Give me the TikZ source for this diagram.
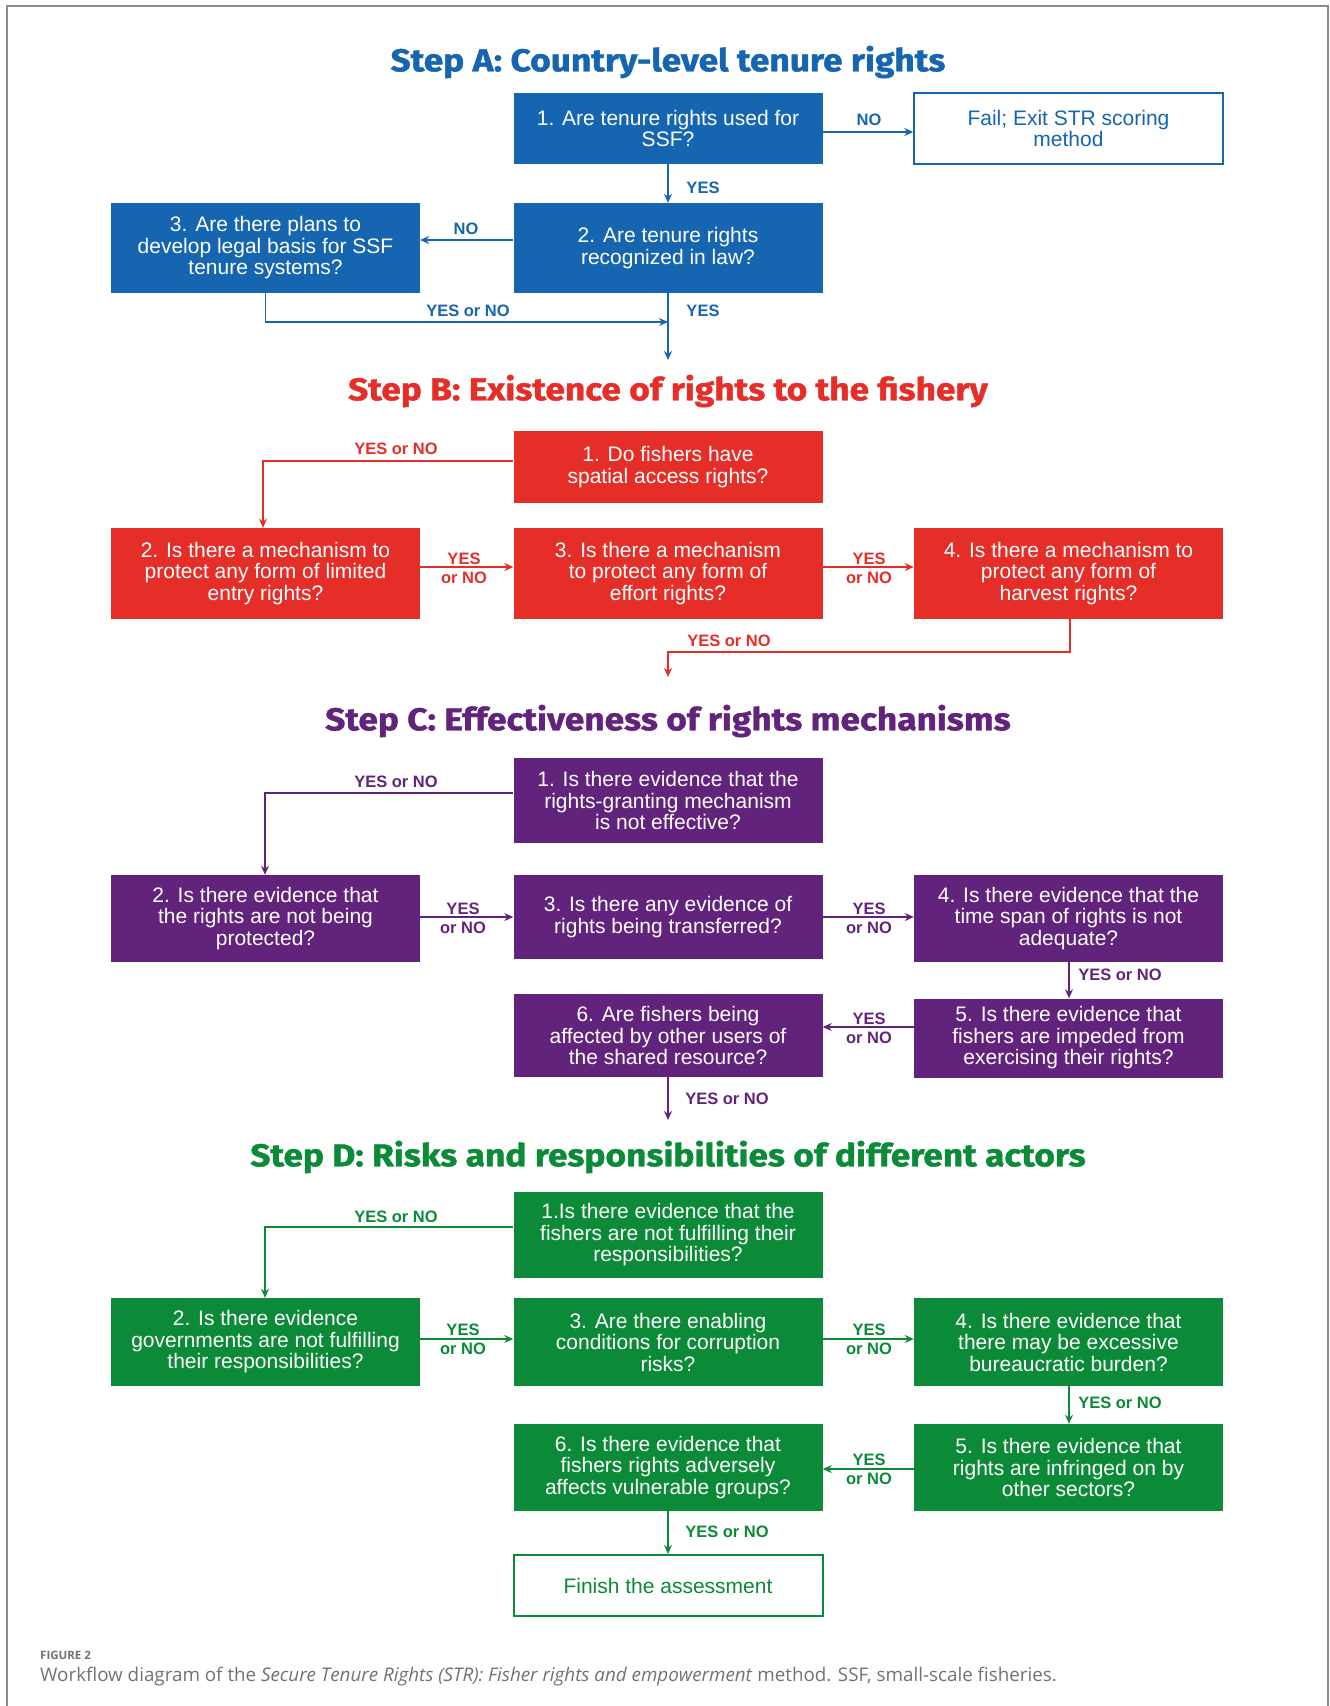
\documentclass[tikz,border=0pt]{standalone}
\usepackage{fontspec}
\setmainfont{Liberation Sans}
\newfontfamily\titlefont{Fira Sans}[FakeStretch=1.12, BoldFeatures={FakeBold=1.3}]
\newfontfamily\capfont{Open Sans}
\usetikzlibrary{arrows.meta}
\definecolor{cA}{HTML}{1565B0}
\definecolor{cB}{HTML}{E52E28}
\definecolor{cC}{HTML}{62237C}
\definecolor{cD}{HTML}{0B8A37}
\definecolor{frameg}{HTML}{8C8C8C}
\definecolor{capg}{HTML}{727272}
\tikzset{
  qbox/.style={rectangle, inner sep=0pt, minimum width=309pt, text=white, align=center,
    font=\fontsize{21}{21.5}\selectfont},
  obox/.style={rectangle, inner sep=0pt, minimum width=309pt, fill=white, align=center,
    font=\fontsize{21}{21.5}\selectfont},
  ttl/.style={font=\titlefont\bfseries\fontsize{31.5}{34}\selectfont},
  lbl/.style={font=\bfseries\fontsize{16.5}{19}\selectfont, align=center, inner sep=0pt},
  conn/.style={line width=1.5pt},
  arr/.style={line width=1.5pt, -{Stealth[length=9pt,width=8pt]}},
}
\begin{document}
\begin{tikzpicture}[x=1pt,y=-1pt]
\useasboundingbox (0,0) rectangle (1330,1706);
\fill[white] (0,0) rectangle (1330,1706);
\draw[frameg, line width=2pt] (7,1706) -- (7,6) -- (1328,6) -- (1328,1706);

% ---------------- Step A ----------------
\node[ttl, text=cA] (tA) at (668,62) {Step A: Country-level tenure rights};
\node[qbox, fill=cA, minimum height=71pt] (A1) at (668,128.5) {1. Are tenure rights used for\\SSF?};
\node[obox, draw=cA, line width=1.5pt, text=cA, minimum height=71pt] (Af) at (1068.5,128.5) {Fail; Exit STR scoring\\method};
\node[qbox, fill=cA, minimum height=90pt] (A2) at (668,248) {2. Are tenure rights\\recognized in law?};
\node[qbox, fill=cA, minimum height=90pt] (A3) at (265.5,248) {3. Are there plans to\\develop legal basis for SSF\\tenure systems?};
\coordinate (aJ) at (668,322);
\coordinate (aE) at (668,360);
\begin{scope}[cA]
\draw[arr] (A1.east |- 0,132) -- (Af.west |- 0,132);
\draw[arr] (A1.south) -- (A2.north);
\draw[arr] (A2.west |- 0,240) -- (A3.east |- 0,240);
\draw[arr] (A3.south) |- (aJ);
\draw[arr] (A2.south) -- (aE);
\node[lbl] (lA1) at (869,120) {NO};
\node[lbl] (lA2) at (703,188) {YES};
\node[lbl] (lA3) at (466,229) {NO};
\node[lbl] (lA4) at (468,311) {YES or NO};
\node[lbl] (lA5) at (703,311) {YES};
\end{scope}

% ---------------- Step B ----------------
\node[ttl, text=cB] (tB) at (668,391) {Step B: Existence of rights to the fishery};
\node[qbox, fill=cB, minimum height=72pt] (B1) at (668,467) {1. Do fishers have\\spatial access rights?};
\node[qbox, fill=cB, minimum height=91pt] (B2) at (265.5,573.5) {2. Is there a mechanism to\\protect any form of limited\\entry rights?};
\node[qbox, fill=cB, minimum height=91pt] (B3) at (668,573.5) {3. Is there a mechanism\\to protect any form of\\effort rights?};
\node[qbox, fill=cB, minimum height=91pt] (B4) at (1068.5,573.5) {4. Is there a mechanism to\\protect any form of\\harvest rights?};
\coordinate (bE) at (668,677);
\begin{scope}[cB]
\draw[arr] (B1.west |- 0,461) -| (B2.north -| 263,0);
\draw[arr] (B2.east |- 0,567) -- (B3.west |- 0,567);
\draw[arr] (B3.east |- 0,567) -- (B4.west |- 0,567);
\draw[arr] (B4.south -| 1070,0) -- (1070,652) -- (668,652) -- (bE);
\node[lbl] (lB1) at (396,449) {YES or NO};
\node[lbl] (lB2) at (464,568) {YES\\or NO};
\node[lbl] (lB3) at (869,568) {YES\\or NO};
\node[lbl] (lB4) at (729,641) {YES or NO};
\end{scope}

% ---------------- Step C ----------------
\node[ttl, text=cC] (tC) at (668,721) {Step C: Effectiveness of rights mechanisms};
\node[qbox, fill=cC, minimum height=85pt] (C1) at (668,800.5) {1. Is there evidence that the\\rights-granting mechanism\\is not effective?};
\node[qbox, fill=cC, minimum height=87pt] (C2) at (265.5,918.5) {2. Is there evidence that\\the rights are not being\\protected?};
\node[qbox, fill=cC, minimum height=84pt] (C3) at (668,917) {3. Is there any evidence of\\rights being transferred?};
\node[qbox, fill=cC, minimum height=87pt] (C4) at (1068.5,918.5) {4. Is there evidence that the\\time span of rights is not\\adequate?};
\node[qbox, fill=cC, minimum height=79pt] (C5) at (1068.5,1038) {5. Is there evidence that\\fishers are impeded from\\exercising their rights?};
\node[qbox, fill=cC, minimum height=83pt] (C6) at (668,1035.5) {6. Are fishers being\\affected by other users of\\the shared resource?};
\coordinate (cE) at (668,1120);
\begin{scope}[cC]
\draw[arr] (C1.west |- 0,793) -| (C2.north -| 265,0);
\draw[arr] (C2.east |- 0,917) -- (C3.west |- 0,917);
\draw[arr] (C3.east |- 0,917) -- (C4.west |- 0,917);
\draw[arr] (C4.south -| 1069,0) -- (C5.north -| 1069,0);
\draw[arr] (C5.west |- 0,1027) -- (C6.east |- 0,1027);
\draw[arr] (C6.south) -- (cE);
\node[lbl] (lC1) at (396,782) {YES or NO};
\node[lbl] (lC2) at (463,918) {YES\\or NO};
\node[lbl] (lC3) at (869,918) {YES\\or NO};
\node[lbl] (lC4) at (1120,975) {YES or NO};
\node[lbl] (lC5) at (869,1028) {YES\\or NO};
\node[lbl] (lC6) at (727,1099) {YES or NO};
\end{scope}

% ---------------- Step D ----------------
\node[ttl, text=cD] (tD) at (668,1157) {Step D: Risks and responsibilities of different actors};
\node[qbox, fill=cD, minimum height=86pt] (D1) at (668,1235) {1.Is there evidence that the\\fishers are not fulfilling their\\responsibilities?};
\node[qbox, fill=cD, minimum height=88pt] (D2) at (265.5,1342) {2. Is there evidence\\governments are not fulfilling\\their responsibilities?};
\node[qbox, fill=cD, minimum height=88pt] (D3) at (668,1342) {3. Are there enabling\\conditions for corruption\\risks?};
\node[qbox, fill=cD, minimum height=88pt] (D4) at (1068.5,1342) {4. Is there evidence that\\there may be excessive\\bureaucratic burden?};
\node[qbox, fill=cD, minimum height=87pt] (D5) at (1068.5,1467.5) {5. Is there evidence that\\rights are infringed on by\\other sectors?};
\node[qbox, fill=cD, minimum height=87pt] (D6) at (668,1467.5) {6. Is there evidence that\\fishers rights adversely\\affects vulnerable groups?};
\node[obox, draw=cD, line width=2pt, text=cD, minimum height=61pt] (Dfin) at (668,1585.5) {Finish the assessment};
\begin{scope}[cD]
\draw[arr] (D1.west |- 0,1227) -| (D2.north -| 265,0);
\draw[arr] (D2.east |- 0,1339) -- (D3.west |- 0,1339);
\draw[arr] (D3.east |- 0,1339) -- (D4.west |- 0,1339);
\draw[arr] (D4.south -| 1069,0) -- (D5.north -| 1069,0);
\draw[arr] (D5.west |- 0,1469) -- (D6.east |- 0,1469);
\draw[arr] (D6.south) -- (Dfin.north);
\node[lbl] (lD1) at (396,1217) {YES or NO};
\node[lbl] (lD2) at (463,1339) {YES\\or NO};
\node[lbl] (lD3) at (869,1339) {YES\\or NO};
\node[lbl] (lD4) at (1120,1403) {YES or NO};
\node[lbl] (lD5) at (869,1469) {YES\\or NO};
\node[lbl] (lD6) at (727,1532) {YES or NO};
\end{scope}

% ---------------- Caption ----------------
\node[anchor=west, inner sep=0pt, text=capg, font=\capfont\bfseries\fontsize{11.5}{14}\selectfont] (fig) at (40,1655) {FIGURE 2};
\node[anchor=west, inner sep=0pt, text=capg, font=\capfont\fontsize{18.8}{22}\selectfont] (cap) at (40,1677) {Workflow diagram of the \textit{Secure Tenure Rights (STR): Fisher rights and empowerment} method. SSF, small-scale fisheries.};
\end{tikzpicture}
\end{document}
